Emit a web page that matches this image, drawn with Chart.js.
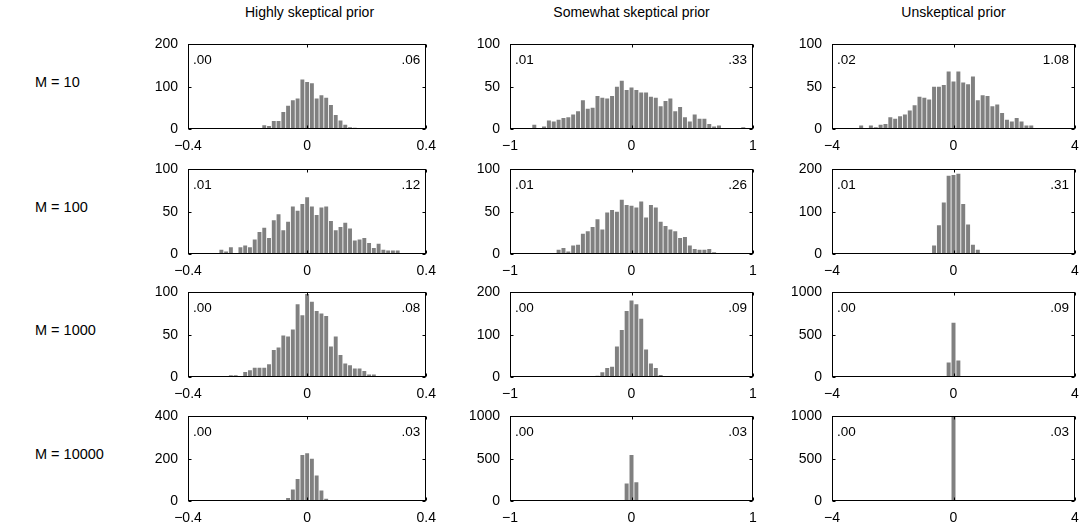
<!DOCTYPE html>
<html>
<head>
<meta charset="utf-8">
<script src="https://cdn.jsdelivr.net/npm/chart.js@4"></script>
<style>
  body { margin: 0; background: #fff; width: 1081px; height: 531px; position: relative; overflow: hidden;
         font-family: "Liberation Sans", Arial, sans-serif; color: #000; }
  canvas { position: absolute; }
  .title { position: absolute; top: 4px; width: 243px; text-align: center; font-size: 14px; white-space: nowrap; }
  .rowlab { position: absolute; left: 35px; font-size: 14.5px; white-space: nowrap; }
</style>
</head>
<body>
<script>
// pad a run of counts (starting at bin index `first`) out to the 51 bins -25..25
const bins = (first, counts) => {
    const out = new Array(51).fill(0);
    counts.forEach((c, i) => { out[first + 25 + i] = c; });
    return out;
};

const priors = ['Highly skeptical prior', 'Somewhat skeptical prior', 'Unskeptical prior'];
const sampleSizes = ['M = 10', 'M = 100', 'M = 1000', 'M = 10000'];
const xLimits = [0.4, 1, 4];
const yMaxima = [[200, 100, 100], [100, 100, 200], [100, 200, 1000], [400, 1000, 1000]];
const leftValues = [['.00', '.01', '.02'], ['.01', '.01', '.01'], ['.00', '.00', '.00'], ['.00', '.00', '.00']];
const rightValues = [['.06', '.33', '1.08'], ['.12', '.26', '.31'], ['.08', '.09', '.09'], ['.03', '.03', '.03']];

// histogram counts
const highM10 = bins(-9, [9, 7, 19, 19, 40, 55, 68, 72, 117, 111, 108, 72, 80, 74, 57, 33, 20, 10, 4, 3, 1]);
const someM10 = bins(-24, [1, 1, 1, 1, 5, 1, 3, 10, 9, 11, 13, 14, 17, 21, 34, 24, 25, 39, 37, 36, 39, 50, 57, 46, 49,
                           46, 43, 43, 38, 37, 27, 33, 36, 21, 26, 14, 9, 17, 12, 12, 6, 3, 4, 1, 1, 1, 1, 2]);
const unskM10 = bins(-19, [4, 0, 4, 2, 5, 6, 14, 12, 15, 17, 22, 28, 38, 37, 35, 50, 50, 52, 68, 56, 68, 55, 53, 62,
                           34, 40, 39, 27, 29, 19, 11, 9, 13, 9, 4, 4]);
const highM100 = bins(-18, [5, 3, 8, 1, 8, 10, 8, 17, 26, 31, 19, 40, 47, 28, 38, 56, 51, 59, 67, 56, 46, 55, 56, 39,
                            28, 32, 37, 30, 16, 17, 19, 13, 7, 12, 5, 4, 4, 4]);
const someM100 = bins(-15, [5, 7, 3, 10, 11, 24, 27, 32, 41, 29, 49, 52, 50, 64, 58, 57, 55, 62, 43, 58, 55, 38, 33,
                            29, 27, 19, 20, 10, 6, 5, 5, 6, 2]);
const unskM100 = bins(-6, [2, 1, 20, 68, 122, 185, 187, 190, 118, 70, 22, 10]);
const highM1000 = bins(-16, [2, 2, 1, 6, 8, 11, 11, 11, 15, 32, 35, 49, 48, 56, 86, 73, 98, 89, 78, 75, 72, 36, 48,
                             26, 16, 14, 10, 10, 7, 3, 3]);
const someM1000 = bins(-7, [3, 11, 21, 24, 72, 111, 156, 181, 172, 138, 65, 32, 21, 5]);
const unskM1000 = bins(-1, [170, 640, 195]);
const highM10000 = bins(-4, [14, 54, 104, 217, 226, 200, 121, 50, 11]);
const someM10000 = bins(-2, [10, 207, 543, 221, 10]);
const unskM10000 = bins(0, [1000]);

const panels = [
    [highM10, someM10, unskM10],
    [highM100, someM100, unskM100],
    [highM1000, someM1000, unskM1000],
    [highM10000, someM10000, unskM10000]
];

// layout of the plot boxes
const colLeft = [188, 510, 832];
const rowTop = [36, 161, 284, 408];
const boxW = 243, boxH = 93;
const padL = 40, padT = 10, padR = 14, padB = 30;
const font = { family: '"Liberation Sans", Arial, sans-serif', size: 14 };

const fmt = v => (v < 0 ? '\u2212' + Math.abs(v) : String(v));

// box frame, inward ticks and the two corner numbers
const frame = {
    id: 'frame',
    afterDraw(chart, args, opts) {
        const { ctx, chartArea: a, scales: { x, y } } = chart;
        const l = Math.round(a.left) + 0.5, r = Math.round(a.right) - 0.5;
        const t = Math.round(a.top) + 0.5, b = Math.round(a.bottom) - 0.5;
        ctx.save();
        ctx.strokeStyle = '#000';
        ctx.lineWidth = 1;
        ctx.strokeRect(l, t, r - l, b - t);
        ctx.beginPath();
        x.ticks.forEach(tk => {
            const px = Math.round(x.getPixelForValue(tk.value)) + 0.5;
            ctx.moveTo(px, b); ctx.lineTo(px, b - 3);
            ctx.moveTo(px, t); ctx.lineTo(px, t + 3);
        });
        y.ticks.forEach(tk => {
            const py = Math.round(y.getPixelForValue(tk.value)) + 0.5;
            ctx.moveTo(l, py); ctx.lineTo(l + 3, py);
            ctx.moveTo(r, py); ctx.lineTo(r - 3, py);
        });
        ctx.stroke();
        ctx.fillStyle = '#000';
        ctx.font = '13.5px "Liberation Sans", Arial, sans-serif';
        ctx.textBaseline = 'middle';
        ctx.textAlign = 'left';
        ctx.fillText(opts.left, a.left + 5, a.top + 16);
        ctx.textAlign = 'right';
        ctx.fillText(opts.right, a.right - 6, a.top + 16);
        ctx.restore();
    }
};

priors.forEach((p, c) => {
    const d = document.createElement('div');
    d.className = 'title';
    d.style.left = colLeft[c] + 'px';
    d.textContent = p;
    document.body.appendChild(d);
});

sampleSizes.forEach((m, r) => {
    const d = document.createElement('div');
    d.className = 'rowlab';
    d.style.top = (rowTop[r] + boxH / 2 - 9) + 'px';
    d.textContent = m;
    document.body.appendChild(d);
});

panels.forEach((row, r) => {
    row.forEach((counts, c) => {
        const lim = xLimits[c];
        const yMax = yMaxima[r][c];
        const canvas = document.createElement('canvas');
        canvas.width = padL + boxW + padR;
        canvas.height = padT + boxH + padB;
        canvas.style.left = (colLeft[c] - padL) + 'px';
        canvas.style.top = (rowTop[r] - padT) + 'px';
        document.body.appendChild(canvas);

        new Chart(canvas, {
            type: 'bar',
            data: {
                datasets: [{
                    data: counts.map((n, i) => ({ x: (i - 25) * lim / 25, y: n })),
                    backgroundColor: '#808080',
                    borderWidth: 0,
                    barPercentage: 0.82,
                    categoryPercentage: 1
                }]
            },
            options: {
                responsive: false,
                animation: false,
                events: [],
                layout: { padding: { top: padT, right: padR, bottom: 0, left: 0 } },
                plugins: {
                    legend: { display: false },
                    tooltip: { enabled: false },
                    frame: { left: leftValues[r][c], right: rightValues[r][c] }
                },
                scales: {
                    x: {
                        type: 'linear',
                        min: -lim,
                        max: lim,
                        offset: false,
                        grid: { display: false, drawTicks: false },
                        border: { display: false },
                        afterBuildTicks: s => { s.ticks = [-lim, 0, lim].map(v => ({ value: v })); },
                        afterFit: s => { s.height = padB; },
                        ticks: { padding: 9, maxRotation: 0, autoSkip: false, color: '#000', font, callback: v => fmt(v) }
                    },
                    y: {
                        min: 0,
                        max: yMax,
                        grid: { display: false, drawTicks: false },
                        border: { display: false },
                        afterBuildTicks: s => { s.ticks = [0, yMax / 2, yMax].map(v => ({ value: v })); },
                        afterFit: s => { s.width = padL; },
                        ticks: { padding: 10, color: '#000', font, callback: v => String(v) }
                    }
                }
            },
            plugins: [frame]
        });
    });
});
</script>
</body>
</html>
